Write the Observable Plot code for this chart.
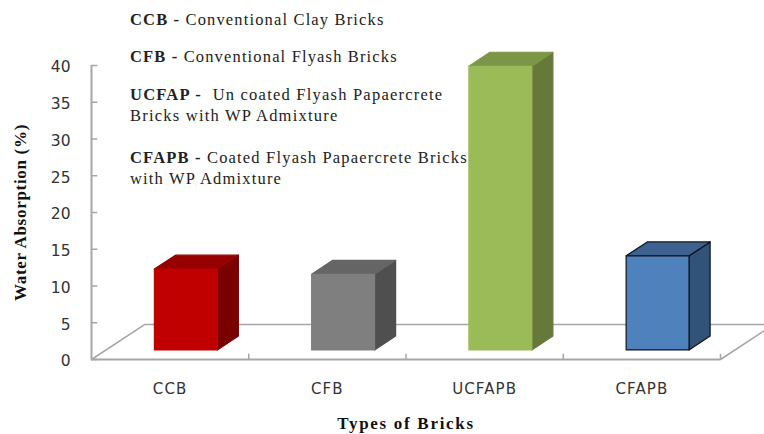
<!DOCTYPE html>
<html><head><meta charset="utf-8">
<script src="https://cdn.jsdelivr.net/npm/d3@7"></script>
<script src="https://cdn.jsdelivr.net/npm/@observablehq/plot@0.6"></script>
<style>
html,body{margin:0;padding:0;background:#fff;overflow:hidden}
#wrap{position:relative;width:764px;height:434px}
.note{position:absolute;left:130px;font-family:"Liberation Serif",serif;font-size:16.5px;line-height:20.5px;color:#222;white-space:nowrap}
</style></head>
<body><div id="wrap"></div>
<script>
const categories = ["CCB","CFB","UCFAPB","CFAPB"];
const values = [11.0,10.3,38.6,12.8];
const frontFill = ["#c00000","#7f7f7f","#9bbb59","#4f81bd"];
const topFill = ["#960000","#656565","#7c9648","#3e628f"];
const sideFill = ["#7a0000","#4f4f4f","#67793a","#325278"];
const edge = ["#d85a5a","#999999","#a8c670","#0d1520"];
const yTicks = [0,5,10,15,20,25,30,35,40];
const notes = [
  [10,"CCB -"," Conventional Clay Bricks",1.15],
  [47,"CFB -"," Conventional Flyash Bricks",1.15],
  [85,"UCFAP -","&nbsp; Un coated Flyash Papaercrete<br>Bricks with WP Admixture",1.22],
  [148,"CFAPB -"," Coated Flyash Papaercrete Bricks<br>with WP Admixture",1.18]
];
const barStart = 0.4, barWidth = 0.4, base = 1.3, depthX = 0.134, depthY = 1.9;
const backX = 0.337, backY = 4.76, edgeX = 4.28, edgeY = 3.95;

const polys = [];
categories.forEach((c,i)=>{
  const x0=i+barStart, x1=x0+barWidth, y0=base, y1=base+values[i];
  const add=(id,fill,stroke,pts)=>pts.forEach(([x,y])=>polys.push({id:c+id,x,y,fill,stroke}));
  add("side",sideFill[i],i===3?edge[i]:sideFill[i],[[x1,y0],[x1+depthX,y0+depthY],[x1+depthX,y1+depthY],[x1,y1]]);
  add("top",topFill[i],i===3?edge[i]:topFill[i],[[x0,y1],[x1,y1],[x1+depthX,y1+depthY],[x0+depthX,y1+depthY]]);
  add("front",frontFill[i],i===3?edge[i]:frontFill[i],[[x0,y0],[x1,y0],[x1,y1],[x0,y1]]);
});
const grid="#a6a6a6";
const chart = Plot.plot({
  width:764,height:434,marginLeft:91,marginRight:44,marginTop:65,marginBottom:75,
  style:{background:"#fff"},
  x:{domain:[0,4],label:null},
  y:{domain:[0,40],label:null},
  color:{type:"identity"},
  marks:[
    Plot.line([[0,0],[backX,backY],[edgeX,backY]],{x:d=>d[0],y:d=>d[1],stroke:grid,strokeWidth:1.5}),
    Plot.line([[4,0],[edgeX,edgeY]],{x:d=>d[0],y:d=>d[1],stroke:grid,strokeWidth:1.5}),
    Plot.ruleY([0],{x1:0,x2:4,stroke:grid,strokeWidth:2}),
    Plot.ruleX([0],{y1:0,y2:40,stroke:grid,strokeWidth:2}),
    Plot.ruleY(yTicks,{x1:0,x2:0.04,stroke:grid,strokeWidth:1.5}),
    Plot.ruleX([1,2,3,4],{y1:0,y2:0.7,stroke:grid,strokeWidth:1.5}),
    Plot.line(polys,{x:"x",y:"y",z:"id",fill:"fill",stroke:"stroke",strokeWidth:1.2,curve:"linear-closed"}),
    Plot.axisY({ticks:yTicks,tickSize:0,tickPadding:21,dy:2,fontSize:15.5,fontFamily:"DejaVu Sans",color:"#333",label:"Water Absorption (%)",labelAnchor:"center",labelArrow:"none",labelOffset:78}),
    Plot.axisX({ticks:categories.map((c,i)=>i+0.5),tickFormat:(d)=>categories[d-0.5],tickSize:0,tickPadding:24,fontSize:15,fontFamily:"DejaVu Sans",color:"#333",label:"Types of Bricks",labelAnchor:"center",labelArrow:"none",labelOffset:69})
  ]
});
const svg=d3.select(chart);
svg.selectAll("[aria-label='y-axis tick label'], [aria-label='x-axis tick label']").attr("font-weight","normal").attr("fill","#333");
svg.selectAll("[aria-label='x-axis tick label'] text").style("letter-spacing","1.1px");
svg.selectAll("[aria-label='y-axis label'] text, [aria-label='x-axis label'] text")
  .attr("font-family","Liberation Serif").attr("font-weight","bold").attr("font-size",17).attr("fill","#111").style("letter-spacing","0.7px");
svg.selectAll("[aria-label='x-axis label'] text").style("letter-spacing","1.7px");
const wrap=document.getElementById("wrap");
wrap.appendChild(chart);
notes.forEach(([top,b,r,ls])=>{
  const d=document.createElement("div");d.className="note";d.style.top=top+"px";d.style.letterSpacing=ls+"px";
  d.innerHTML="<b>"+b+"</b>"+r;wrap.appendChild(d);
});
</script></body></html>
